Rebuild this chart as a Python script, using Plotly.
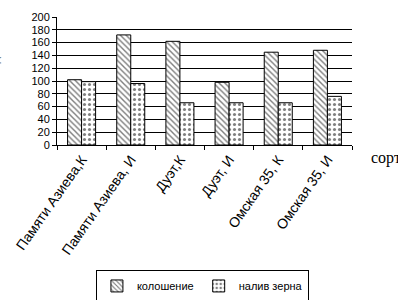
import plotly.graph_objects as go

categories = ["Памяти Азиева,К", "Памяти Азиева, И", "Дуэт,К", "Дуэт, И", "Омская 35, К", "Омская 35, И"]
kolosh = [102, 172, 162, 98, 145, 148]
naliv = [99, 96, 66, 66, 66, 76]
y_ticks = list(range(0, 201, 20))

fig = go.Figure()
fig.add_bar(x=categories, y=kolosh, name="колошение",
            marker=dict(color="white", line=dict(color="black", width=1),
                        pattern=dict(shape="\\", size=4, solidity=0.35, fgcolor="black", bgcolor="white")))
fig.add_bar(x=categories, y=naliv, name="налив зерна",
            marker=dict(color="white", line=dict(color="black", width=1),
                        pattern=dict(shape=".", size=5, solidity=0.3, fgcolor="black", bgcolor="white")))

fig.update_layout(
    width=398, height=300,
    margin=dict(l=57, r=46, t=17, b=155, autoexpand=False),
    paper_bgcolor="white", plot_bgcolor="white",
    barmode="group", bargap=0.43, bargroupgap=0,
    font=dict(family="Arial, Liberation Sans", size=12, color="black"),
    showlegend=True,
    legend=dict(orientation="h", x=0.493, y=-0.98, xanchor="center", yanchor="top",
                bordercolor="black", borderwidth=1, font=dict(size=11),
                itemwidth=30, traceorder="normal", tracegroupgap=0),
    xaxis=dict(type="category", showline=True, linecolor="black", linewidth=1,
               ticks="outside", tickson="boundaries", ticklen=4, tickcolor="black",
               tickangle=-55, tickfont=dict(size=14), showgrid=False, automargin=False),
    yaxis=dict(range=[0, 200], tickvals=y_ticks, showline=True, linecolor="black", linewidth=1,
               ticks="outside", ticklen=4, tickcolor="black", showgrid=True,
               gridcolor="black", gridwidth=1, tickfont=dict(size=11), zeroline=False,
               automargin=False),
)

fig.add_annotation(text="сорт", xref="paper", yref="paper", x=1.058, y=-0.1,
                   xanchor="left", yanchor="middle", showarrow=False,
                   font=dict(family="Liberation Serif, Times New Roman", size=16, color="black"))
fig.add_annotation(text="количество дней", xref="paper", yref="paper", x=-0.212, y=0.5,
                   xanchor="center", yanchor="middle", textangle=-90, showarrow=False,
                   font=dict(family="Liberation Serif, Times New Roman", size=12, color="black"))

fig.write_html("out.html", post_script="document.body.style.margin='0';",
               config={"displayModeBar": False})
